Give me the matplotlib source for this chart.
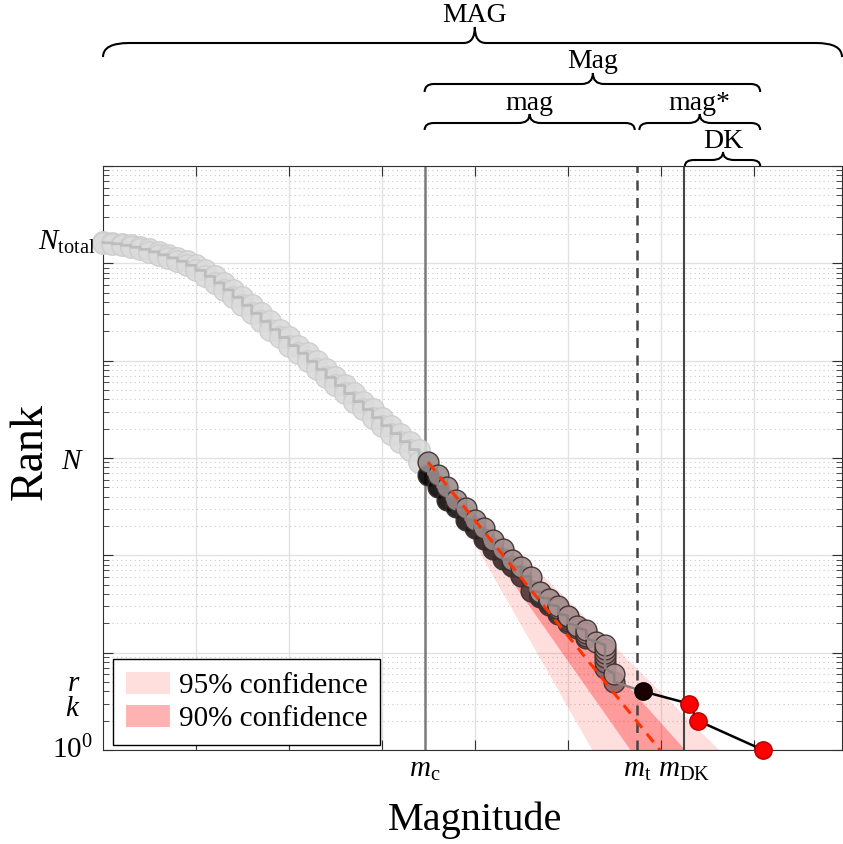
import numpy as np
import matplotlib
matplotlib.use('Agg')
import matplotlib.pyplot as plt
import matplotlib.transforms as mtransforms
from matplotlib.path import Path
from matplotlib.patches import PathPatch, Patch
from matplotlib.ticker import LogLocator, NullFormatter

# catalogue below completeness (grey), top rank of each 0.1 magnitude bin
GREY_M = [0.0, 0.1, 0.2, 0.3, 0.4, 0.5, 0.6, 0.7, 0.8, 0.9, 1.0, 1.1, 1.2,
          1.3, 1.4, 1.5, 1.6, 1.7, 1.8, 1.9, 2.0, 2.1, 2.2, 2.3, 2.4, 2.5,
          2.6, 2.7, 2.8, 2.9, 3.0, 3.1, 3.2, 3.3, 3.4]
GREY_RANK = [164400, 162500, 158700, 153200, 146100, 139300, 131300, 122300,
             113900, 104900, 95400, 84700, 73500, 63000, 53400, 44700, 37000,
             30600, 25300, 20900, 17300, 14300, 11900, 9810, 8120, 6720, 5560,
             4600, 3800, 3150, 2600, 2150, 1780, 1470, 1220]

# complete catalogue between m_c and m_t
MAG_M = [3.5, 3.6, 3.7, 3.8, 3.9, 4.0, 4.1, 4.2, 4.3, 4.4, 4.5, 4.6, 4.7,
         4.8, 4.9, 5.0, 5.1, 5.2, 5.3, 5.4, 5.5]
MAG_RANK = [900, 675, 500, 370, 310, 230, 190, 145, 115, 90, 76, 60, 42, 36,
            30, 24, 19, 17, 13, 12, 6]

# largest events
T_M, T_RANK = 5.81, 4
DK_M = [6.30, 6.40, 7.10]
DK_RANK = [3, 2, 1]

M_C, M_T, M_DK = 3.46, 5.75, 6.25

# fitted b-value and confidence envelopes (anchored at the first complete bin)
B_FIT = 1.186
B_95 = (1.678, 0.944)
B_90 = (1.36, 1.07)

BRACE_LABELS = ['MAG', 'Mag', 'mag', 'mag*', 'DK']
BRACE_X0 = [0.0, 3.46, 3.46, 5.77, 6.26]
BRACE_X1 = [7.95, 7.07, 5.72, 7.07, 7.07]
BRACE_TIP = [4.0, 5.27, 4.59, 6.42, 6.67]

plt.rcParams['font.family'] = 'Liberation Serif'
plt.rcParams['mathtext.fontset'] = 'custom'
plt.rcParams['mathtext.rm'] = 'Liberation Serif'
plt.rcParams['mathtext.it'] = 'Liberation Serif:italic'

W, H = 843, 844
fig = plt.figure(figsize=(W / 100, H / 100), dpi=100)
ax = fig.add_axes([103 / W, 1 - 750 / H, 739 / W, 584 / H])
ax.set_yscale('log')
ax.set_xlim(0, 7.95)
ax.set_ylim(1, 1e6)

# grid & ticks, MATLAB style
ax.set_xticks(np.arange(1, 8))
ax.set_xticklabels([])
ax.yaxis.set_major_locator(LogLocator(base=10, numticks=10))
ax.yaxis.set_minor_locator(LogLocator(base=10, subs=np.arange(2, 10), numticks=100))
ax.yaxis.set_major_formatter(NullFormatter())
ax.yaxis.set_minor_formatter(NullFormatter())
ax.grid(True, which='major', color='#e2e2e2', lw=1)
ax.yaxis.grid(True, which='minor', color='#c8c8c8', ls=(0, (1, 3)), lw=0.8)
ax.set_axisbelow(True)
ax.tick_params(which='both', direction='in', top=True, right=True, color='#303030')
ax.tick_params(which='major', length=7)
ax.tick_params(which='minor', length=4)
for s in ax.spines.values():
    s.set_color('#303030')

# confidence bands and fit
x0, r0 = MAG_M[0], MAG_RANK[0]
xs = np.array([x0, 8.0])
def line(b):
    return r0 * 10 ** (-b * (xs - x0))
ax.fill_between(xs, line(B_95[0]), line(B_95[1]), color='red', alpha=0.13, lw=0, zorder=1)
ax.fill_between(xs, line(B_90[0]), line(B_90[1]), color='red', alpha=0.30, lw=0, zorder=1)
ax.plot(xs, line(B_FIT), color='#ff3300', lw=2.2, ls=(0, (3.5, 2.5)), zorder=6)

# threshold lines
ax.axvline(M_C, color='#7a7a7a', lw=1.8, zorder=2)
ax.axvline(M_T, color='#454545', lw=1.8, ls=(0, (4, 3)), zorder=2)
ax.axvline(M_DK, color='#454545', lw=1.5, zorder=2)

# staircase of ranks: each bin stacks from next top + 1 up to its own top
def stack(ms, tops, next_top):
    pts = []
    for i, (m, t) in enumerate(zip(ms, tops)):
        nxt = tops[i + 1] if i + 1 < len(tops) else next_top
        bottom = nxt + 1
        if t - bottom <= 8:
            ranks = list(range(bottom, t + 1))
        else:
            ranks = [bottom, t]
        pts.append((m, ranks))
    return pts

grey = stack(GREY_M, GREY_RANK, MAG_RANK[0])
gx, gy = [], []
for m, ranks in grey:
    for r in ranks[::-1]:
        gx.append(m); gy.append(r)
ax.plot(gx, gy, 'o', ms=15.5, mfc=(0.86, 0.86, 0.86), mec=(0.80, 0.80, 0.80),
        alpha=0.9, clip_on=False, zorder=3)
ax.plot(gx, gy, '-', color=(0.74, 0.74, 0.74), lw=2, zorder=4, clip_on=False)

mag = stack(MAG_M, MAG_RANK, T_RANK)
n = len(mag)
mx, my = [], []
for i, (m, ranks) in enumerate(mag):
    t = i / (n - 1)
    dark = np.array([0.55 * t, 0.40 * t, 0.40 * t])
    light = np.array([0.60 + 0.1 * t, 0.55 + 0.03 * t, 0.55 + 0.03 * t])
    k = len(ranks)
    for j, r in enumerate(ranks):
        f = j / (k - 1) if k > 1 else 1
        c = dark * (1 - f) + light * f
        ax.plot(m, r, 'o', ms=15, mfc=c, mec=(0.22, 0.18, 0.18), mew=1,
                alpha=0.9, zorder=5)
    for r in ranks[::-1]:
        mx.append(m); my.append(r)
ax.plot(mx + [T_M], my + [T_RANK], '-', color=(0.55, 0.50, 0.50), lw=1.8, zorder=5)

ax.plot([T_M] + DK_M, [T_RANK] + DK_RANK, '-', color='black', lw=1.8, zorder=6)
ax.plot(T_M, T_RANK, 'o', ms=12.5, mfc='#1a0000', mec='black', zorder=7)
ax.plot(DK_M, DK_RANK, 'o', ms=12.5, mfc='#ff0000', mec='#b00000', clip_on=False, zorder=7)

# axis annotations
ytr = mtransforms.blended_transform_factory(ax.transAxes, ax.transData)
for val, lab, dx, dy in [(GREY_RANK[0], r'$N_{\rm total}$', 0.010, 0), (MAG_RANK[0], r'$N$', 0.026, 0),
                         (T_RANK, r'$r$', 0.030, 7), (DK_RANK[0], r'$k$', 0.030, -5),
                         (1, r'$10^0$', 0.014, 0)]:
    off = mtransforms.ScaledTranslation(0, dy / 100, fig.dpi_scale_trans)
    ax.text(-dx, val, lab, transform=ytr + off, ha='right', va='center', fontsize=21)
xtr = mtransforms.blended_transform_factory(ax.transData, ax.transAxes)
for val, lab in [(M_C, r'$m_{\rm c}$'), (M_T, r'$m_{\rm t}$'), (M_DK, r'$m_{\rm DK}$')]:
    ax.text(val, -0.012, lab, transform=xtr, ha='center', va='top', fontsize=21)

fig.text(475 / W, 1 - 820 / H, 'Magnitude', ha='center', va='center', fontsize=29)
fig.text(30 / W, 1 - 452 / H, 'Rank', ha='center', va='center', fontsize=33, rotation=90)

# braces above the axes
btr = mtransforms.blended_transform_factory(ax.transData, fig.transFigure)
rows = [(15, 27, 43, 57), (62, 73, 84, 92), (104, 114, 123, 130),
        (104, 114, 123, 130), (141, 152, 160, 166)]
radii = [0.28, 0.1, 0.1, 0.1, 0.1]

def fy(px):
    return 1 - px / H

for lab, a, b, tip, (ty, yt, yb, ye), rr in zip(BRACE_LABELS, BRACE_X0, BRACE_X1,
                                                BRACE_TIP, rows, radii):
    ra = 0.12
    verts = [(a, fy(ye)), (a, fy(yb)), (a + rr, fy(yb)),
             (tip - ra, fy(yb)), (tip, fy(yb)), (tip, fy(yt)),
             (tip, fy(yb)), (tip + ra, fy(yb)),
             (b - rr, fy(yb)), (b, fy(yb)), (b, fy(ye))]
    codes = [Path.MOVETO, Path.CURVE3, Path.CURVE3,
             Path.LINETO, Path.CURVE3, Path.CURVE3,
             Path.CURVE3, Path.CURVE3,
             Path.LINETO, Path.CURVE3, Path.CURVE3]
    p = PathPatch(Path(verts, codes), fill=False, lw=1.5, ec='black',
                  transform=btr, clip_on=False)
    fig.add_artist(p)
    fig.text(tip, fy(ty), lab, transform=btr, ha='center', va='center', fontsize=20)

handles = [Patch(facecolor=(1, 0, 0, 0.13), edgecolor='none'),
           Patch(facecolor=(1, 0, 0, 0.30), edgecolor='none')]
leg = ax.legend(handles, ['95% confidence', '90% confidence'], loc='lower left',
                bbox_to_anchor=(0.0135, 0.008), borderaxespad=0, fontsize=21,
                fancybox=False, edgecolor='black', framealpha=1,
                handlelength=1.5, handleheight=0.8, handletextpad=0.3,
                borderpad=0.45, labelspacing=0.2)
leg.get_frame().set_linewidth(1)
leg.set_zorder(10)

fig.savefig('out.png', dpi=100)
